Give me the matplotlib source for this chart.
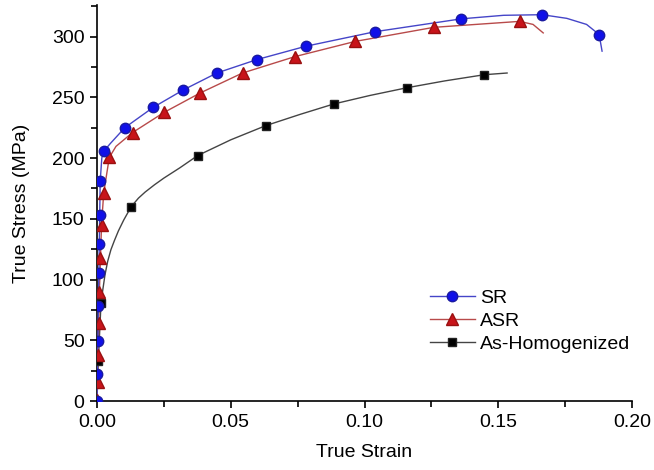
import matplotlib
matplotlib.use("Agg")
import matplotlib.pyplot as plt
from matplotlib.ticker import MultipleLocator, FormatStrFormatter

# ------------------------------------------------------------
# Data (strain, stress in MPa)
# ------------------------------------------------------------
# curve points (line)
sr_line_strain = [0.0, 0.00015, 0.0012, 0.0018, 0.0025, 0.005, 0.0104, 0.021, 0.0322,
                  0.0448, 0.0597, 0.078, 0.1039, 0.1362, 0.152, 0.1664, 0.1756, 0.183,
                  0.1877, 0.1888]
sr_line_stress = [0, 22, 181, 200, 205.5, 212, 225, 241.7, 256, 270, 281, 292, 304,
                  314.6, 317.5, 318, 315, 310, 301.7, 288]

asr_line_strain = [0.0, 0.0004, 0.0009, 0.0017, 0.0025, 0.0046, 0.0071, 0.0133, 0.0251,
                   0.0386, 0.0544, 0.074, 0.0965, 0.1259, 0.158, 0.163, 0.1668]
asr_line_stress = [0, 38, 90, 145, 171, 200.5, 209.6, 221, 237.6, 253.6, 270, 283.5,
                   296, 307.6, 312.5, 310, 303]

hom_line_strain = [0.0, 0.0005, 0.0015, 0.0022, 0.0030, 0.0040, 0.0052, 0.0065, 0.0080,
                   0.0100, 0.0128, 0.0155, 0.0180, 0.0215, 0.0250, 0.0310, 0.0376,
                   0.0500, 0.063, 0.0760, 0.0885, 0.1020, 0.1157, 0.1300, 0.1448,
                   0.1533]
hom_line_stress = [0, 33, 80.5, 92, 104, 115, 124.5, 132, 140, 149, 160, 167, 172, 178,
                   183.5, 192, 202, 215, 226.6, 236, 244.5, 251.5, 257.8, 263.5, 268.6,
                   270]

# symbol positions
sr_mark_strain = [0.0, 0.00015, 0.0003, 0.0005, 0.0007, 0.0009, 0.001, 0.0012, 0.0025,
                  0.0104, 0.021, 0.0322, 0.0448, 0.0597, 0.078, 0.1039, 0.1362, 0.1664,
                  0.1877]
sr_mark_stress = [0, 22, 49.5, 78, 105.5, 129.5, 153, 181, 205.5, 225, 241.7, 256, 270,
                  281, 292, 304, 314.6, 318, 301.7]

asr_mark_strain = [0.0, 0.0002, 0.0004, 0.0006, 0.0009, 0.0013, 0.0017, 0.0025, 0.0046,
                   0.0133, 0.0251, 0.0386, 0.0544, 0.074, 0.0965, 0.1259, 0.158]
asr_mark_stress = [1, 16, 38, 64.5, 90, 117.6, 145, 171, 200.5, 221, 237.6, 253.6, 270,
                   283.5, 296, 307.6, 312.5]

hom_mark_strain = [0.0005, 0.0015, 0.0128, 0.0376, 0.063, 0.0885, 0.1157, 0.1448]
hom_mark_stress = [33, 80.5, 160, 202, 226.6, 244.5, 257.8, 268.6]

FONT = ["Liberation Sans", "DejaVu Sans"]
plt.rcParams["font.family"] = FONT
plt.rcParams["font.size"] = 14


def main():
    fig = plt.figure(figsize=(6.54, 4.70), dpi=100)
    ax = fig.add_axes([0.1483, 0.1468, 0.8181, 0.8426])

    # lines
    ax.plot(hom_line_strain, hom_line_stress, color="#444444", lw=1.0, zorder=2)
    ax.plot(asr_line_strain, asr_line_stress, color="#b84a4a", lw=1.0, zorder=3)
    ax.plot(sr_line_strain, sr_line_stress, color="#4545c8", lw=1.0, zorder=4)

    # symbols
    ax.plot(hom_mark_strain, hom_mark_stress, ls="none", marker="s", ms=6,
            mfc="black", mec="#222222", zorder=5)
    ax.plot(asr_mark_strain, asr_mark_stress, ls="none", marker="^", ms=8,
            mfc="#c8141a", mec="#9a1010", zorder=6)
    ax.plot(sr_mark_strain, sr_mark_stress, ls="none", marker="o", ms=7.5,
            mfc="#1010e8", mec="#1a1aa0", zorder=7)

    # legend proxies
    h_sr, = ax.plot([], [], color="#4545c8", lw=1.0, marker="o", ms=7.5,
                    mfc="#1010e8", mec="#1a1aa0", label="SR")
    h_asr, = ax.plot([], [], color="#b84a4a", lw=1.0, marker="^", ms=8,
                     mfc="#c8141a", mec="#9a1010", label="ASR")
    h_hom, = ax.plot([], [], color="#444444", lw=1.0, marker="s", ms=6,
                     mfc="black", mec="#222222", label="As-Homogenized")
    ax.legend(handles=[h_sr, h_asr, h_hom], loc="upper left",
              bbox_to_anchor=(0.622, 0.283), frameon=False, borderpad=0,
              borderaxespad=0, handlelength=2.3, handletextpad=0.3,
              labelspacing=0.28, fontsize=14, markerscale=1.0)

    ax.set_xlim(0, 0.2)
    ax.set_ylim(0, 326)
    ax.xaxis.set_major_locator(MultipleLocator(0.05))
    ax.xaxis.set_minor_locator(MultipleLocator(0.025))
    ax.xaxis.set_major_formatter(FormatStrFormatter("%.2f"))
    ax.yaxis.set_major_locator(MultipleLocator(50))
    ax.yaxis.set_minor_locator(MultipleLocator(25))

    for side in ("top", "right"):
        ax.spines[side].set_visible(False)
    for side in ("left", "bottom"):
        ax.spines[side].set_linewidth(1.2)
    ax.tick_params(which="major", direction="out", length=5, width=1.2,
                   labelsize=14, pad=4)
    ax.tick_params(which="minor", direction="out", length=4, width=1.2)

    ax.set_xlabel("True Strain", fontsize=14, labelpad=10)
    ax.set_ylabel("True Stress (MPa)", fontsize=14, labelpad=16)

    fig.savefig("out.png", dpi=100, facecolor="white")


if __name__ == "__main__":
    main()
